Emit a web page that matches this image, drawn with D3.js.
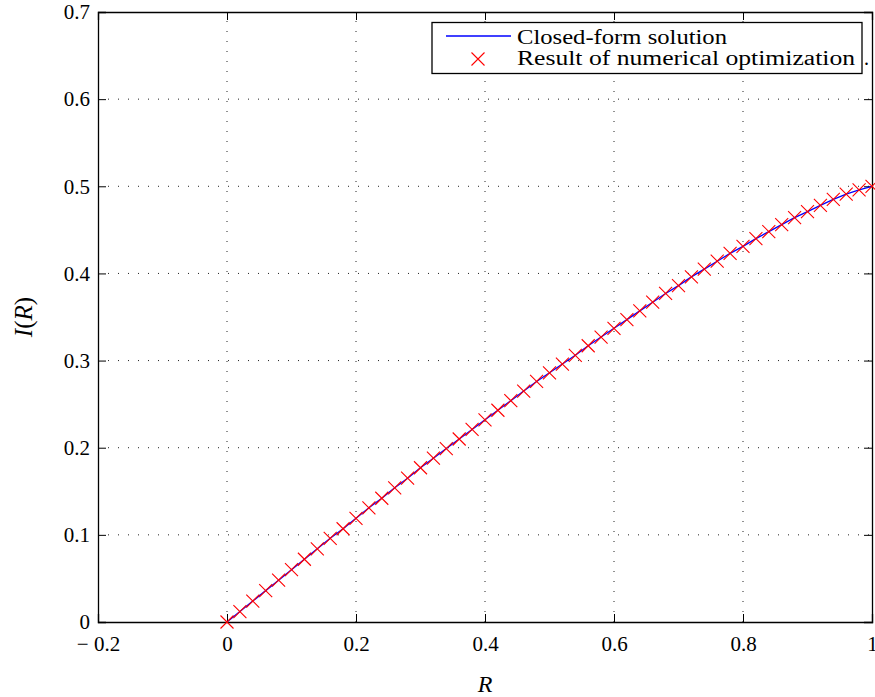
<!DOCTYPE html>
<html>
<head>
<meta charset="utf-8">
<script src="https://cdn.jsdelivr.net/npm/d3@7"></script>
<style>
  body { margin: 0; background: #fff; }
  text { font-family: "Liberation Serif", serif; fill: #000; }
</style>
</head>
<body>
<svg id="chart"></svg>
<script>
let width = 875;
let height = 697;
let margin = { top: 12, right: 3, bottom: 75, left: 98 };

// R values of the computed points
let rValues = [0, 0.02, 0.04, 0.06, 0.08, 0.1, 0.12, 0.14, 0.16, 0.18,
  0.2, 0.22, 0.24, 0.26, 0.28, 0.3, 0.32, 0.34, 0.36, 0.38,
  0.4, 0.42, 0.44, 0.46, 0.48, 0.5, 0.52, 0.54, 0.56, 0.58,
  0.6, 0.62, 0.64, 0.66, 0.68, 0.7, 0.72, 0.74, 0.76, 0.78,
  0.8, 0.82, 0.84, 0.86, 0.88, 0.9, 0.92, 0.94, 0.96, 0.98, 1];
// I(R)
let iValues = [0, 0.012, 0.024, 0.036, 0.048, 0.06, 0.072, 0.084, 0.096, 0.107,
  0.119, 0.131, 0.142, 0.154, 0.165, 0.177, 0.188, 0.199, 0.21, 0.221,
  0.232, 0.243, 0.254, 0.265, 0.276, 0.286, 0.296, 0.306, 0.317, 0.327,
  0.337, 0.347, 0.357, 0.367, 0.377, 0.386, 0.396, 0.405, 0.414, 0.423,
  0.431, 0.44, 0.448, 0.456, 0.464, 0.471, 0.478, 0.485, 0.491, 0.496, 0.5];

let xTicks = [-0.2, 0, 0.2, 0.4, 0.6, 0.8, 1];
let xTickLabels = ["\u2212 0.2", "0", "0.2", "0.4", "0.6", "0.8", "1"];
let yTicks = [0, 0.1, 0.2, 0.3, 0.4, 0.5, 0.6, 0.7];
let yTickLabels = ["0", "0.1", "0.2", "0.3", "0.4", "0.5", "0.6", "0.7"];
let legendLabels = ["Closed-form solution", "Result of numerical optimization"];

let points = rValues.map((r, i) => ({ r: r, v: iValues[i] }));

let x = d3.scaleLinear().domain([-0.2, 1]).range([margin.left, width - margin.right]);
let y = d3.scaleLinear().domain([0, 0.7]).range([height - margin.bottom, margin.top]);

let svg = d3.select("#chart").attr("width", width).attr("height", height);
let serif = "'Liberation Serif', serif";

// dotted grid
svg.append("g")
  .selectAll("line")
  .data(xTicks.slice(1, -1))
  .enter()
  .append("line")
  .attr("x1", (d) => x(d)).attr("x2", (d) => x(d))
  .attr("y1", y(0)).attr("y2", y(0.7))
  .attr("stroke", "#222").attr("stroke-width", 1)
  .attr("stroke-dasharray", "1,9");
svg.append("g")
  .selectAll("line")
  .data(yTicks.slice(1, -1))
  .enter()
  .append("line")
  .attr("x1", x(-0.2)).attr("x2", x(1))
  .attr("y1", (d) => y(d)).attr("y2", (d) => y(d))
  .attr("stroke", "#222").attr("stroke-width", 1)
  .attr("stroke-dasharray", "1,9");

// axes (ticks pointing inward on all four sides)
let bottomAxis = d3.axisBottom(x).tickValues(xTicks)
  .tickSize(-8).tickPadding(14)
  .tickFormat((d, i) => xTickLabels[i]);
let topAxis = d3.axisTop(x).tickValues(xTicks).tickSize(-8).tickFormat("");
let leftAxis = d3.axisLeft(y).tickValues(yTicks)
  .tickSize(-8).tickPadding(8)
  .tickFormat((d, i) => yTickLabels[i]);
let rightAxis = d3.axisRight(y).tickValues(yTicks).tickSize(-8).tickFormat("");

svg.append("g").attr("transform", `translate(0,${y(0)})`).call(bottomAxis)
  .call((g) => g.selectAll("text").style("font-size", "21px").style("font-family", serif));
svg.append("g").attr("transform", `translate(0,${y(0.7)})`).call(topAxis);
svg.append("g").attr("transform", `translate(${x(-0.2)},0)`).call(leftAxis)
  .call((g) => g.selectAll("text").style("font-size", "21px").style("font-family", serif));
svg.append("g").attr("transform", `translate(${x(1)},0)`).call(rightAxis);
svg.selectAll(".domain").attr("stroke", "#000").attr("stroke-width", 1.3);
svg.selectAll(".tick line").attr("stroke", "#000");

// closed-form curve
let line = d3.line().x((d) => x(d.r)).y((d) => y(d.v));
svg.append("path")
  .datum(points)
  .attr("d", line)
  .attr("fill", "none")
  .attr("stroke", "#0000ff")
  .attr("stroke-width", 1.3);

// numerical results as x markers
let m = 6.5;
svg.append("g").selectAll("path")
  .data(points)
  .enter()
  .append("path")
  .attr("d", (d) => {
    let cx = x(d.r), cy = y(d.v);
    return `M${cx - m},${cy - m}L${cx + m},${cy + m}M${cx - m},${cy + m}L${cx + m},${cy - m}`;
  })
  .attr("stroke", "#ff0000")
  .attr("stroke-width", 1.1)
  .attr("fill", "none");

// axis labels
svg.append("text")
  .attr("x", x(0.4)).attr("y", 692)
  .attr("text-anchor", "middle")
  .style("font-size", "24px").style("font-style", "italic").style("font-family", serif)
  .text("R");
svg.append("text")
  .attr("transform", `translate(32,${y(0.35)}) rotate(-90)`)
  .attr("text-anchor", "middle")
  .style("font-size", "25px").style("font-family", serif)
  .html('<tspan font-style="italic">I</tspan>(<tspan font-style="italic">R</tspan>)');

// legend
let lg = svg.append("g");
lg.append("rect")
  .attr("x", 432).attr("y", 22.5).attr("width", 430).attr("height", 51)
  .attr("fill", "#fff").attr("stroke", "#000").attr("stroke-width", 1.3);
lg.append("line")
  .attr("x1", 446).attr("x2", 511).attr("y1", 36).attr("y2", 36)
  .attr("stroke", "#0000ff").attr("stroke-width", 1.3);
lg.append("path")
  .attr("d", `M${478 - m},${59 - m}L${478 + m},${59 + m}M${478 - m},${59 + m}L${478 + m},${59 - m}`)
  .attr("stroke", "#ff0000").attr("stroke-width", 1.1).attr("fill", "none");
lg.selectAll("text.lab")
  .data(legendLabels)
  .enter()
  .append("text")
  .attr("class", "lab")
  .attr("x", 517)
  .attr("y", (d, i) => 44 + i * 21)
  .attr("textLength", (d, i) => (i === 0 ? 210 : 338))
  .attr("lengthAdjust", "spacingAndGlyphs")
  .style("font-size", "20px").style("font-family", serif)
  .text((d) => d);
lg.append("text").attr("x", 864).attr("y", 65)
  .style("font-size", "20px").style("font-family", serif).text(".");
</script>
</body>
</html>
